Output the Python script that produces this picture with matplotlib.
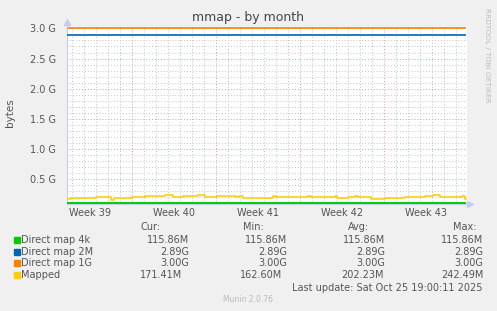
import matplotlib
matplotlib.use("Agg")
import matplotlib.pyplot as plt
import numpy as np

W, H = 497, 311
DPI = 100

# ---- data (x in days from left edge of graph, values in MiB) ----
mapped_days = [0.0, 0.33, 2.42, 3.67, 3.92, 5.42, 6.5, 8.17, 8.83, 9.67, 10.92, 11.5,
               12.5, 14.08, 14.33, 14.67, 17.17, 17.42, 20.08, 20.33, 22.33, 22.5,
               23.42, 24.0, 24.25, 25.33, 26.5, 28.17, 29.83, 30.5, 31.08, 32.92, 33.17]
mapped_mib = [173, 190, 207, 170, 190, 207, 224, 241, 207, 224, 241, 207,
              224, 207, 224, 190, 224, 207, 224, 207, 224, 190,
              207, 224, 207, 178, 190, 207, 224, 241, 207, 224, 171]
end_day = 33.25
direct_4k_mib = 115.86
direct_2m_gib = 2.89
direct_1g_gib = 3.00

series_names = ["Direct map 4k", "Direct map 2M", "Direct map 1G", "Mapped"]
series_colors = ["#00CC00", "#0066B3", "#FF8000", "#FFCC00"]
cur_vals = ["115.86M", "2.89G", "3.00G", "171.41M"]
min_vals = ["115.86M", "2.89G", "3.00G", "162.60M"]
avg_vals = ["115.86M", "2.89G", "3.00G", "202.23M"]
max_vals = ["115.86M", "2.89G", "3.00G", "242.49M"]
week_labels = ["Week 39", "Week 40", "Week 41", "Week 42", "Week 43"]
week_starts = [5.42, 12.42, 19.42, 26.42]
ytick_vals = [0.5, 1.0, 1.5, 2.0, 2.5, 3.0]
ytick_labels = ["0.5 G", "1.0 G", "1.5 G", "2.0 G", "2.5 G", "3.0 G"]

BG = "#F0F0F0"
TXT = "#555555"
AXC = "#C8CCEE"

fig = plt.figure(figsize=(W / DPI, H / DPI), dpi=DPI, facecolor=BG)

def px(x, y):
    return x / W, 1 - y / H

left, right, top, bot = 67, 467, 27, 203.5
ax = fig.add_axes([left / W, 1 - bot / H, (right - left) / W, (bot - top) / H])
ax.set_facecolor("white")
xmax = (right - left) / 12.0
ax.set_xlim(0, xmax)
ymin = 0.1
ymax = ymin + (bot - top) / 60.4
ax.set_ylim(ymin, ymax)

# grid
GRID = "#C4C4C4"
MGRID = "#E09A9A"
for yv in np.arange(0.1, 3.01, 0.1):
    if abs(yv / 0.5 - round(yv / 0.5)) < 1e-6:
        continue
    ax.axhline(yv, color=GRID, lw=0.7, ls=(0, (1, 2)), zorder=1)
for xv in np.arange(0.42, xmax, 1.0):
    if any(abs(xv - w) < 1e-6 for w in week_starts):
        continue
    ax.axvline(xv, color=GRID, lw=0.7, ls=(0, (1, 2)), zorder=1)
for yv in ytick_vals:
    ax.axhline(yv, color=MGRID, lw=0.7, ls=(0, (1, 2)), zorder=1)
for xv in week_starts:
    ax.axvline(xv, color=MGRID, lw=0.7, ls=(0, (1, 2)), zorder=1)

# series
ax.plot([0, end_day], [direct_4k_mib / 1024] * 2, color=series_colors[0], lw=1.4, zorder=3, clip_on=False, solid_capstyle="butt")
ax.plot([0, end_day], [direct_2m_gib] * 2, color=series_colors[1], lw=1.2, zorder=3, solid_capstyle="butt")
ax.plot([0, end_day], [direct_1g_gib] * 2, color=series_colors[2], lw=1.2, zorder=3, clip_on=False, solid_capstyle="butt")
mx = list(mapped_days) + [end_day]
my = [v / 1024 for v in mapped_mib] + [mapped_mib[-1] / 1024]
ax.step(mx, my, where="post", color=series_colors[3], lw=1.1, zorder=3)

# axes styling
for s in ["top", "right"]:
    ax.spines[s].set_visible(False)
ax.spines["left"].set_color(AXC)
ax.spines["bottom"].set_color(AXC)
ax.spines["left"].set_linewidth(0.8)
ax.spines["bottom"].set_linewidth(0.8)
ax.plot([0, 0], [ymax, ymax + 4 / 60.4], color=AXC, lw=0.8, clip_on=False, zorder=5)
ax.plot([xmax + 0.25], [ymin], marker=">", color=AXC, ms=4, clip_on=False, zorder=5)
ax.plot([0], [ymax + 5 / 60.4], marker="^", color=AXC, ms=4, clip_on=False, zorder=5)

ax.set_yticks(ytick_vals)
ax.set_yticklabels(ytick_labels)
ax.set_xticks([w - 3.5 for w in week_starts] + [week_starts[-1] + 3.5])
ax.set_xticklabels(week_labels)
ax.tick_params(axis="both", length=0, labelsize=7, colors=TXT, pad=3)
ax.tick_params(axis="y", pad=8)

# texts
fig.text(*px(248.5, 18), "mmap - by month", ha="center", va="center", fontsize=9, color="#444444")
fig.text(*px(10, 113), "bytes", ha="center", va="center", rotation=90, fontsize=7.5, color=TXT)
fig.text(*px(487.5, 55), "RRDTOOL / TOBI OETIKER", ha="center", va="center", rotation=270,
         fontsize=5.3, color="#BBBBBB")

hdr_y = 227.3
fig.text(*px(161, hdr_y), "Cur:", ha="right", va="center", fontsize=7, color=TXT)
fig.text(*px(264, hdr_y), "Min:", ha="right", va="center", fontsize=7, color=TXT)
fig.text(*px(369, hdr_y), "Avg:", ha="right", va="center", fontsize=7, color=TXT)
fig.text(*px(477, hdr_y), "Max:", ha="right", va="center", fontsize=7, color=TXT)

row_y = [239.7, 251.7, 263.3, 275.3]
col_right = [(189.3, 182.7), (287.3, 282.7), (385, 383.3), (483.3, 483.3)]
cols = [cur_vals, min_vals, avg_vals, max_vals]
for i, name in enumerate(series_names):
    y = row_y[i]
    fig.patches.append(plt.Rectangle((14 / W, 1 - (y + 3) / H), 6 / W, 6 / H,
                                     transform=fig.transFigure, color=series_colors[i]))
    fig.text(*px(21, y), name, ha="left", va="center", fontsize=7, color=TXT)
    for c, vals in enumerate(cols):
        xr = col_right[c][1] if i == 3 else col_right[c][0]
        fig.text(*px(xr, y), vals[i], ha="right", va="center", fontsize=7, color=TXT)

fig.text(*px(483, 287.7), "Last update: Sat Oct 25 19:00:11 2025", ha="right", va="center",
         fontsize=7, color=TXT)
fig.text(*px(248, 300), "Munin 2.0.76", ha="center", va="center", fontsize=5.5, color="#BBBBBB")

fig.savefig("out.png", dpi=DPI, facecolor=BG)
